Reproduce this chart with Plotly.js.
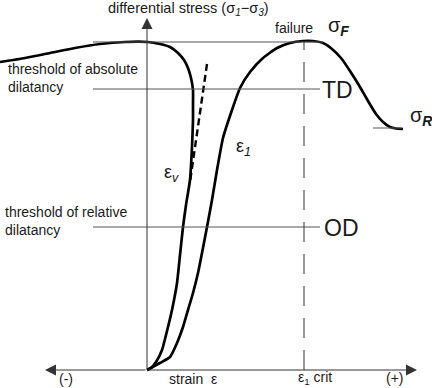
<!DOCTYPE html>
<html>
<head>
<meta charset="utf-8">
<script src="https://cdn.plot.ly/plotly-3.0.1.min.js"></script>
<style>html,body{margin:0;padding:0;background:#fff;}#chart{width:432px;height:388px;}</style>
</head>
<body>
<div id="chart"></div>
<script>
// Volumetric strain curve (εv): strain, stress
const epsV_strain = [-147,-122,-97,-72,-47,-22,1,13,23,31,37,41,44,46,46,46,45,43,39,36,33,30,25,21,15,9,4,0];
const epsV_stress = [308,312,317,322,326,328,328,326,323,317,310,302,292,280,265,250,223,190,165,143,115,87,60,43,20,8,2,0];
// Axial strain curve (ε1)
const eps1_strain = [0,13,23,30,36,41,46,51,55,60,65,70,76,85,93,103,116,130,143,156,166,176,185,194,203,213,221,229,236,243,249,256];
const eps1_stress = [0,7,13,27,43,60,77,97,117,143,170,200,232,260,282,298,312,322,327,329,329,327,321,312,299,283,269,256,248,243,241.5,241];
// Dashed tangent to εv
const tangent_strain = [60,43];
const tangent_stress = [306,188];
// Stress levels
const levelNames = ['failure','TD','OD','residual'];
const levelStress = [328,281,143,242];
const critStrain = 157;

const FONT = 'Arial, "Liberation Sans", sans-serif';
const TXT = '#1a1a1a';
const LINE = '#555';

const traces = [
  {x: epsV_strain, y: epsV_stress, mode:'lines', line:{color:'#000', width:2.7, shape:'spline', smoothing:0.5}, hoverinfo:'skip'},
  {x: eps1_strain, y: eps1_stress, mode:'lines', line:{color:'#000', width:2.7, shape:'spline', smoothing:0.5}, hoverinfo:'skip'},
  {x: tangent_strain, y: tangent_stress, mode:'lines', line:{color:'#000', width:2.4, dash:'7px,4px'}, hoverinfo:'skip'}
];

const shapes = [
  {type:'line', x0:-54, x1:176, y0:levelStress[0], y1:levelStress[0], line:{color:LINE, width:1}},
  {type:'line', x0:-54, x1:173, y0:levelStress[1], y1:levelStress[1], line:{color:LINE, width:1}},
  {type:'line', x0:-54, x1:173, y0:levelStress[2], y1:levelStress[2], line:{color:LINE, width:1}},
  {type:'line', x0:226, x1:255, y0:levelStress[3], y1:levelStress[3], line:{color:LINE, width:1}},
  {type:'line', x0:critStrain, x1:critStrain, y0:0, y1:levelStress[0], line:{color:'#333', width:1, dash:'20px,12px'}}
];

function arrow(x, y){
  return {x:x, y:y, ax:0, ay:0, axref:'x', ayref:'y', xref:'x', yref:'y', text:'', showarrow:true,
          arrowhead:2, arrowsize:2.2, arrowwidth:1, arrowcolor:'#333', standoff:0, startstandoff:0};
}
function label(x, y, text, size, xanchor){
  return {x:x, y:y, xref:'x', yref:'y', text:text, showarrow:false, xanchor:xanchor||'center', yanchor:'middle',
          font:{family:FONT, size:size, color:TXT}};
}

const annotations = [
  arrow(-102, 0), arrow(270, 0), arrow(0, 352),
  label(41, 361, 'differential stress (σ<sub><i>1</i></sub>−σ<sub><i>3</i></sub>)', 14.5),
  label(147, 342, 'failure', 14),
  label(179, 344, 'σ<sub><b><i>F</i></b></sub>', 20, 'left'),
  label(173, 280, 'TD', 23, 'left'),
  label(175, 142, 'OD', 23, 'left'),
  label(261, 254, 'σ<sub><b><i>R</i></b></sub>', 20, 'left'),
  {x:-141, y:292, xref:'x', yref:'y', text:'threshold of absolute<br>dilatancy', showarrow:false, xanchor:'left', yanchor:'middle', align:'left', font:{family:FONT, size:14, color:TXT}},
  {x:-144, y:149, xref:'x', yref:'y', text:'threshold of relative<br>dilatancy', showarrow:false, xanchor:'left', yanchor:'middle', align:'left', font:{family:FONT, size:14, color:TXT}},
  label(24, 197, 'ε<sub><i>v</i></sub>', 18),
  label(96, 223, 'ε<sub><i>1</i></sub>', 18),
  label(-81, -9, '(-)', 14),
  label(46, -9, 'strain  ε', 14),
  label(168, -8, 'ε<sub>1</sub> crit', 14),
  label(248, -8, '(+)', 14)
];

const layout = {
  width:432, height:388,
  margin:{l:0, r:0, t:0, b:0},
  paper_bgcolor:'#fff', plot_bgcolor:'#fff',
  showlegend:false,
  xaxis:{range:[-147,285], visible:false, fixedrange:true},
  yaxis:{range:[-18,370], visible:false, fixedrange:true},
  shapes:shapes,
  annotations:annotations
};

Plotly.newPlot('chart', traces, layout, {staticPlot:true, displayModeBar:false});
</script>
</body>
</html>
